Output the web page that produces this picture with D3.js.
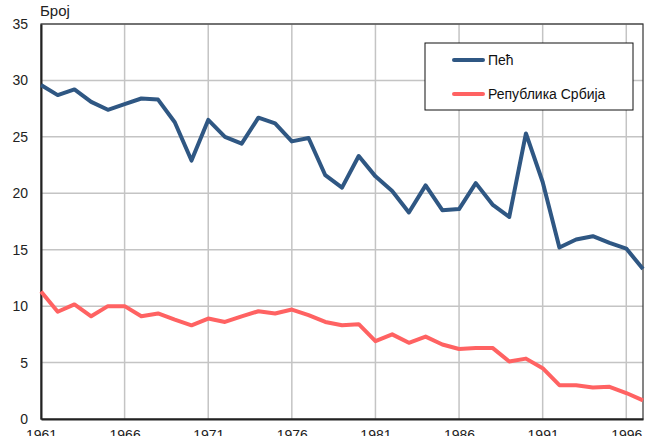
<!DOCTYPE html>
<html>
<head>
<meta charset="utf-8">
<script src="https://cdn.jsdelivr.net/npm/d3@7"></script>
<style>
	body { margin: 0; background: #fff; }
	svg { display: block; font-family: "Liberation Sans", Arial, sans-serif; }
	.grid line { stroke: #c4c4c4; stroke-width: 1.5px; }
	.line { fill: none; stroke-width: 4px; stroke-linejoin: round; }
</style>
</head>
<body>
<div id="chart"></div>
<script>
(function () {
	"use strict";

	var years = d3.range(1961, 1998);
	var xTicks = [1961, 1966, 1971, 1976, 1981, 1986, 1991, 1996];
	var yTicks = [0, 5, 10, 15, 20, 25, 30, 35];

	var pec = [29.6, 28.7, 29.2, 28.1, 27.4, 27.9, 28.4, 28.3, 26.3, 22.9,
		26.5, 25.0, 24.4, 26.7, 26.2, 24.6, 24.9, 21.6, 20.5, 23.3,
		21.5, 20.2, 18.3, 20.7, 18.5, 18.6, 20.9, 19.0, 17.9, 25.3,
		21.0, 15.2, 15.9, 16.2, 15.6, 15.1, 13.3];
	var srbija = [11.3, 9.5, 10.15, 9.1, 10.0, 10.0, 9.1, 9.35, 8.8, 8.3,
		8.9, 8.6, 9.1, 9.55, 9.35, 9.7, 9.2, 8.6, 8.3, 8.4,
		6.9, 7.5, 6.75, 7.3, 6.6, 6.2, 6.3, 6.3, 5.1, 5.35,
		4.5, 3.0, 3.0, 2.8, 2.85, 2.3, 1.65];

	var series = [
		{name: "Пећ", values: pec, color: "#2f5783"},
		{name: "Република Србија", values: srbija, color: "#ff6262"}
	];

	var width = 648, height = 436,
		margin = {top: 24, right: 5, bottom: 17, left: 41},
		w = width - margin.left - margin.right,
		h = height - margin.top - margin.bottom;

	var svg = d3.select("#chart").append("svg")
		.attr("width", width)
		.attr("height", height);

	var g = svg.append("g").attr("transform", "translate(" + margin.left + "," + margin.top + ")");

	var x = d3.scaleLinear().domain([1961, 1997]).range([0, w]);
	var y = d3.scaleLinear().domain([0, 35]).range([h, 0]);

	// grid
	var grid = g.append("g").attr("class", "grid");
	grid.selectAll(".gx").data(xTicks.slice(1)).enter().append("line")
		.attr("x1", function (d) { return x(d); }).attr("x2", function (d) { return x(d); })
		.attr("y1", 0).attr("y2", h);
	grid.selectAll(".gy").data(yTicks.slice(1)).enter().append("line")
		.attr("x1", 0).attr("x2", w)
		.attr("y1", function (d) { return y(d); }).attr("y2", function (d) { return y(d); });

	// frame
	g.append("rect")
		.attr("width", w).attr("height", h)
		.attr("fill", "none").attr("stroke", "#333").attr("stroke-width", 1.2);

	var yAxis = g.append("g")
		.call(d3.axisLeft(y).tickValues(yTicks).tickSize(0).tickPadding(13));
	var xAxis = g.append("g")
		.attr("transform", "translate(0," + h + ")")
		.call(d3.axisBottom(x).tickValues(xTicks).tickFormat(d3.format("d")).tickSize(0).tickPadding(11));
	[xAxis, yAxis].forEach(function (a) {
		a.select(".domain").attr("stroke", "#222").attr("stroke-width", 2);
		a.selectAll("text").attr("font-size", 14).attr("fill", "#222")
			.attr("font-family", "'Liberation Sans', Arial, sans-serif");
	});

	svg.append("text")
		.attr("x", 40).attr("y", 16)
		.attr("font-size", 15).attr("fill", "#222")
		.text("Број");

	var line = d3.line()
		.x(function (d, i) { return x(years[i]); })
		.y(function (d) { return y(d); });

	series.slice().reverse().forEach(function (s) {
		g.append("path")
			.datum(s.values)
			.attr("class", "line")
			.attr("stroke", s.color)
			.attr("d", line);
	});

	// legend
	var lg = svg.append("g").attr("transform", "translate(425,43)");
	lg.append("rect")
		.attr("width", 208).attr("height", 67)
		.attr("fill", "#fff").attr("stroke", "#111").attr("stroke-width", 1);
	series.forEach(function (s, i) {
		var yy = 17 + i * 34;
		lg.append("line")
			.attr("x1", 29).attr("x2", 58)
			.attr("y1", yy).attr("y2", yy)
			.attr("stroke", s.color).attr("stroke-width", 4).attr("stroke-linecap", "round");
		lg.append("text")
			.attr("x", 63).attr("y", yy + 5)
			.attr("font-size", 14).attr("fill", "#111")
			.text(s.name);
	});
})();
</script>
</body>
</html>
